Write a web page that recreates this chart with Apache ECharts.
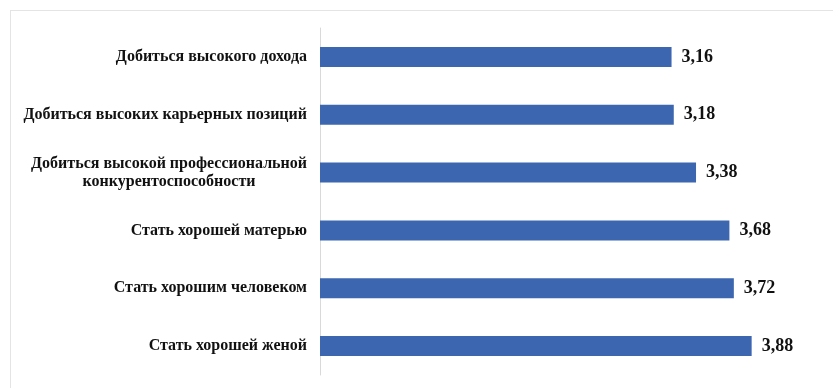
<!DOCTYPE html>
<html>
<head>
<meta charset="utf-8">
<script src="https://cdn.jsdelivr.net/npm/echarts@6/dist/echarts.min.js"></script>
<style>
html,body{margin:0;padding:0;background:#fff;}
#frame{position:absolute;left:10px;top:10px;width:823px;height:378px;border-top:1px solid #e4e4e4;border-left:1px solid #e4e4e4;box-sizing:border-box;}
#chart{position:absolute;left:0;top:0;width:833px;height:388px;}
</style>
</head>
<body>
<div id="frame"></div>
<div id="chart"></div>
<script>
const categories = [
  'Стать хорошей женой',
  'Стать хорошим человеком',
  'Стать хорошей матерью',
  'Добиться высокой профессиональной\nконкурентоспособности',
  'Добиться высоких карьерных позиций',
  'Добиться высокого дохода'
];
const values = [3.88, 3.72, 3.68, 3.38, 3.18, 3.16];

const chart = echarts.init(document.getElementById('chart'));
const serif = '"Liberation Serif", "Times New Roman", serif';
chart.setOption({
  animation: false,
  grid: { left: 320, right: 68, top: 28, bottom: 13, containLabel: false },
  xAxis: {
    type: 'value', min: 0, max: 4,
    show: false
  },
  yAxis: {
    type: 'category',
    data: categories,
    axisLine: { show: true, lineStyle: { color: '#d9d9d9', width: 1 } },
    axisTick: { show: false },
    axisLabel: {
      margin: 13,
      color: '#111',
      fontFamily: serif,
      fontWeight: 'bold',
      fontSize: 16,
      lineHeight: 18,
      formatter: function (v) {
        return v.split('\n').map(function (s) { return '{c|' + s + '}'; }).join('\n');
      },
      rich: {
        c: { align: 'center', fontFamily: serif, fontWeight: 'bold', fontSize: 16, color: '#111', lineHeight: 18 }
      }
    }
  },
  series: [{
    type: 'bar',
    data: values,
    barWidth: 20,
    itemStyle: { color: '#3D66B0' },
    label: {
      show: true,
      position: 'right',
      distance: 10,
      color: '#111',
      fontFamily: serif,
      fontWeight: 'bold',
      fontSize: 18,
      formatter: function (p) { return p.value.toFixed(2).replace('.', ','); }
    }
  }]
});
</script>
</body>
</html>
